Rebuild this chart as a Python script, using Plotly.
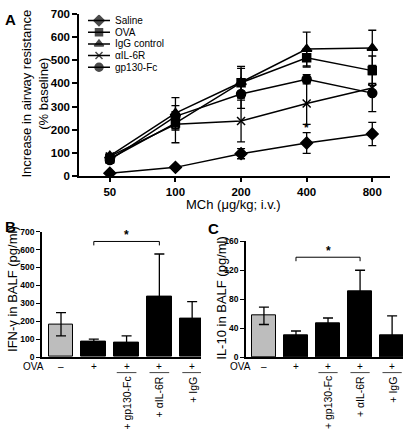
import plotly.graph_objects as go
import numpy as np

# ---------------- Data ----------------
doses = [50, 100, 200, 400, 800]
series_names = ["Saline", "OVA", "IgG control", "\u03b1IL-6R", "gp130-Fc"]
saline = [13, 38, 97, 143, 182]
saline_err = [5, 6, 22, 45, 50]
ova = [75, 229, 403, 510, 455]
ova_err = [20, 30, 62, 40, 63]
igg = [88, 272, 405, 548, 553]
igg_err = [10, 67, 68, 73, 76]
ail6r = [85, 224, 238, 313, 380]
ail6r_err = [12, 80, 90, 90, 20]
gp130 = [70, 258, 354, 418, 358]
gp130_err = [10, 20, 62, 20, 80]

groups = ["saline", "OVA", "OVA+gp130-Fc", "OVA+aIL-6R", "OVA+IgG"]
ova_signs = ["\u2013", "+", "+", "+", "+"]
extra_labels = ["", "", "+ gp130-Fc", "+ \u03b1IL-6R", "+ IgG"]
ifng = [183, 85, 80, 335, 217]
ifng_err = [65, 15, 38, 240, 92]
il10 = [57, 30, 46, 91, 30]
il10_err = [12, 6, 8, 29, 27]

FONT = "Liberation Sans, Arial, sans-serif"
W, H = 406, 435


def px(x):
    return x / W


def py(y):
    return 1 - y / H


fig = go.Figure()

# ---------------- Panel A ----------------
a_series = [
    (saline, saline_err, "diamond", 9),
    (ova, ova_err, "square", 8),
    (igg, igg_err, "triangle-up", 9),
    (ail6r, ail6r_err, "x-thin", 8),
    (gp130, gp130_err, "circle", 9),
]
for (vals, errs, sym, sz), name in zip(a_series, series_names):
    fig.add_trace(go.Scatter(
        x=doses, y=vals, mode="lines+markers", name=name,
        line=dict(color="black", width=1.5),
        marker=dict(symbol=sym, size=sz, color="black",
                    line=dict(color="black", width=1.5)),
        error_y=dict(type="data", array=errs, visible=True, color="black",
                     thickness=1.3, width=4),
        xaxis="x", yaxis="y", showlegend=False,
    ))

# manual legend (key samples on an overlay axis)
for i, ((vals, errs, sym, sz), name) in enumerate(zip(a_series, series_names)):
    fig.add_trace(go.Scatter(
        x=[0, 0.5, 1], y=[i, i, i], mode="lines+markers",
        line=dict(color="black", width=1.5),
        marker=dict(symbol=sym, size=[0, sz - 1, 0], color="black",
                    line=dict(color="black", width=1.5)),
        xaxis="x4", yaxis="y4", showlegend=False, hoverinfo="skip",
    ))

# ---------------- Panels B and C ----------------
bar_colors = ["#bdbdbd"] + ["black"] * (len(groups) - 1)
fig.add_trace(go.Bar(
    x=groups, y=ifng, width=0.76,
    marker=dict(color=bar_colors, line=dict(color="black", width=1)),
    error_y=dict(type="data", array=ifng_err, visible=True, color="black",
                 thickness=1.3, width=5),
    xaxis="x2", yaxis="y2", showlegend=False,
))
fig.add_trace(go.Bar(
    x=groups, y=il10, width=0.76,
    marker=dict(color=bar_colors, line=dict(color="black", width=1)),
    error_y=dict(type="data", array=il10_err, visible=True, color="black",
                 thickness=1.3, width=5),
    xaxis="x3", yaxis="y3", showlegend=False,
))

ax_common = dict(showline=True, linecolor="black", linewidth=1.5,
                 showgrid=False, zeroline=False, mirror=False)

fig.update_layout(
    width=W, height=H,
    margin=dict(l=0, r=0, t=0, b=0),
    paper_bgcolor="white", plot_bgcolor="white",
    font=dict(family=FONT, color="black"),
    showlegend=False,
    bargap=0,
    xaxis=dict(**ax_common, type="log", domain=[px(79), px(390)],
               range=[1.5575, 2.9844], tickvals=doses,
               ticktext=[str(d) for d in doses],
               ticks="outside", ticklen=4, tickwidth=1.5, tickcolor="black",
               tickfont=dict(family=FONT, size=11.5, weight="bold"),
               anchor="y"),
    yaxis=dict(**ax_common, domain=[py(175), py(8)], range=[0, 700],
               tickvals=list(range(0, 701, 100)),
               ticks="outside", ticklen=5, tickwidth=1.5, tickcolor="black",
               tickfont=dict(family=FONT, size=11.5, weight="bold"),
               anchor="x"),
    xaxis2=dict(**ax_common, domain=[px(42), px(201)], range=[-0.58, 4.27],
                showticklabels=False, ticks="", anchor="y2",
                categoryorder="array", categoryarray=groups),
    yaxis2=dict(**ax_common, domain=[py(361), py(232)], range=[0, 700],
                tickvals=list(range(0, 701, 100)),
                ticks="outside", ticklen=4, tickwidth=1.2, tickcolor="black",
                tickfont=dict(family=FONT, size=8.5, weight="bold"),
                anchor="x2"),
    xaxis3=dict(**ax_common, domain=[px(246), px(403)], range=[-0.56, 4.34],
                showticklabels=False, ticks="", anchor="y3",
                categoryorder="array", categoryarray=groups),
    yaxis3=dict(**ax_common, domain=[py(361), py(242)], range=[0, 160],
                tickvals=[0, 40, 80, 120, 160],
                ticks="outside", ticklen=4, tickwidth=1.2, tickcolor="black",
                tickfont=dict(family=FONT, size=8.5, weight="bold"),
                anchor="x3"),
    xaxis4=dict(domain=[px(88), px(110)], range=[0, 1], visible=False,
                fixedrange=True, anchor="y4"),
    yaxis4=dict(domain=[py(69), py(9)], range=[4.5, -0.5], visible=False,
                fixedrange=True, anchor="x4"),
)

ann = []
# legend labels
for i, name in enumerate(series_names):
    ann.append(dict(text=name, xref="x4", yref="y4", x=1, y=i, xanchor="left",
                    yanchor="middle", xshift=3, showarrow=False,
                    font=dict(family=FONT, size=10)))

# panel letters
for letter, x, y in [("A", 3, 3), ("B", 3, 216), ("C", 206, 218)]:
    ann.append(dict(text="<b>%s</b>" % letter, xref="paper", yref="paper",
                    x=px(x), y=py(y), xanchor="left", yanchor="top",
                    showarrow=False, font=dict(family=FONT, size=15)))

# axis titles
ann.append(dict(text="Increase in airway resistance<br>(% baseline)",
                xref="paper", yref="paper", x=px(35), y=py(90),
                xanchor="center", yanchor="middle", textangle=-90,
                showarrow=False, font=dict(family=FONT, size=13)))
ann.append(dict(text="MCh (\u03bcg/kg; i.v.)", xref="paper", yref="paper",
                x=px(233), y=py(204), xanchor="center", yanchor="middle",
                showarrow=False, font=dict(family=FONT, size=13)))
ann.append(dict(text="IFN-\u03b3 in BALF (pg/ml)", xref="paper", yref="paper",
                x=px(13), y=py(291), xanchor="center", yanchor="middle",
                textangle=-90, showarrow=False, font=dict(family=FONT, size=13)))
ann.append(dict(text="IL-10 in BALF (pg/ml)", xref="paper", yref="paper",
                x=px(222), y=py(300), xanchor="center", yanchor="middle",
                textangle=-90, showarrow=False, font=dict(family=FONT, size=13)))

# asterisk panel A
ann.append(dict(text="<b>*</b>", xref="x", yref="y", x=np.log10(doses[3]),
                y=saline[3] + saline_err[3], yanchor="bottom", showarrow=False,
                yshift=-4, font=dict(family=FONT, size=12)))

shapes = []
for xa, ya, br_y, drop, ova_x in [("x2", "y2", 645, 22, 33), ("x3", "y3", 138, 5.5, 240)]:
    # OVA row
    ann.append(dict(text="OVA", xref="paper", yref="paper", x=px(ova_x), y=py(371),
                    xanchor="center", yanchor="middle", showarrow=False,
                    font=dict(family=FONT, size=10)))
    for i, (g, s, lab) in enumerate(zip(groups, ova_signs, extra_labels)):
        ann.append(dict(text=s, xref=xa, yref="paper", x=g, y=py(371),
                        xanchor="center", yanchor="middle", showarrow=False,
                        font=dict(family=FONT, size=10)))
        if lab:
            shapes.append(dict(type="line", xref=xa, yref="paper",
                               x0=i - 0.3, x1=i + 0.3, y0=py(377), y1=py(377),
                               line=dict(color="#444", width=1)))
            ann.append(dict(text=lab, xref=xa, yref="paper", x=g, y=py(379),
                            xanchor="center", yanchor="top", textangle=-90,
                            showarrow=False, font=dict(family=FONT, size=10.5)))
    # significance bracket between groups 1 and 3
    for (x0, x1, y0, y1) in [(1, 1, br_y - drop, br_y), (1, 3, br_y, br_y),
                             (3, 3, br_y, br_y - drop)]:
        shapes.append(dict(type="line", xref=xa, yref=ya, x0=x0, x1=x1,
                           y0=y0, y1=y1, line=dict(color="black", width=1)))
    ann.append(dict(text="<b>*</b>", xref=xa, yref=ya, x=2, y=br_y,
                    yanchor="bottom", showarrow=False, yshift=-3,
                    font=dict(family=FONT, size=12)))

fig.update_layout(annotations=ann, shapes=shapes)
fig.write_html("out.html", config={"displayModeBar": False},
               post_script="document.body.style.margin='0px';")
